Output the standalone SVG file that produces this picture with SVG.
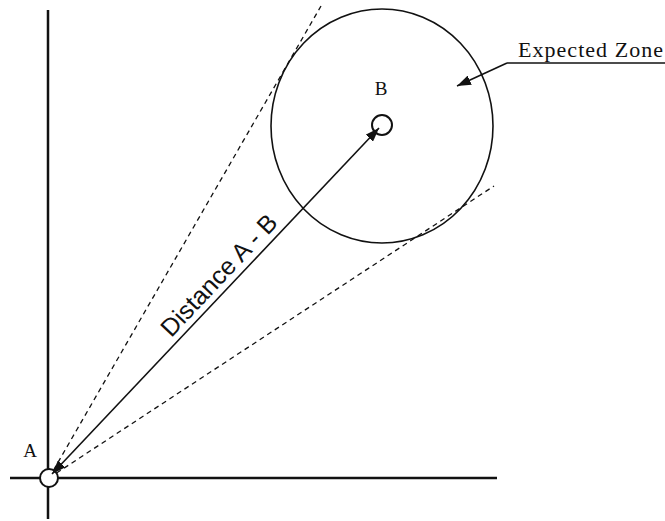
<svg xmlns="http://www.w3.org/2000/svg" width="665" height="521" viewBox="0 0 665 521">
<style>
.axis{stroke:#111;stroke-width:2.5;fill:none}
.line{stroke:#111;stroke-width:1.6;fill:none}
.dash{stroke:#111;stroke-width:1.3;fill:none;stroke-dasharray:5,4}
.pt{stroke:#111;stroke-width:2;fill:#fff}
.serif{font-family:"Liberation Serif","Times New Roman",serif;fill:#111}
.sans{font-family:"Liberation Sans",Arial,sans-serif;fill:#111}
</style>
<defs>
<marker id="ah" viewBox="0 0 14 10" refX="14" refY="5" markerWidth="14" markerHeight="10" markerUnits="userSpaceOnUse" orient="auto-start-reverse">
<path d="M0,0 L14,5 L0,10 Z" fill="#111"/>
</marker>
</defs>
<rect width="665" height="521" fill="#fff"/>
<g id="axes">
<line class="axis" x1="48" y1="10" x2="48" y2="519"/>
<line class="axis" x1="10" y1="478" x2="497" y2="478"/>
</g>
<g id="zone">
<ellipse class="line" cx="382" cy="126" rx="111" ry="117"/>
</g>
<g id="connectors">
<line class="dash" x1="49" y1="478" x2="321" y2="6"/>
<line class="dash" x1="49" y1="478" x2="494" y2="186"/>
</g>
<g id="nodeA">
<circle class="pt" cx="49" cy="478" r="9"/>
<text class="serif" x="30" y="457" font-size="19" text-anchor="middle">A</text>
</g>
<g id="nodeB">
<circle class="pt" cx="382" cy="125" r="10"/>
<text class="serif" x="381" y="95" font-size="19" text-anchor="middle">B</text>
</g>
<g id="distance">
<line class="line" x1="52" y1="474" x2="379" y2="128" marker-start="url(#ah)" marker-end="url(#ah)"/>
<text class="sans" x="225" y="281" font-size="25" text-anchor="middle" transform="rotate(-46.7 225 281)">Distance A - B</text>
</g>
<g id="label">
<text class="serif" x="518" y="57" font-size="22" textLength="145" lengthAdjust="spacing">Expected Zone</text>
<line class="line" x1="507" y1="63" x2="665" y2="63"/>
<line class="line" x1="507" y1="63" x2="457" y2="86" marker-end="url(#ah)"/>
</g>
</svg>
